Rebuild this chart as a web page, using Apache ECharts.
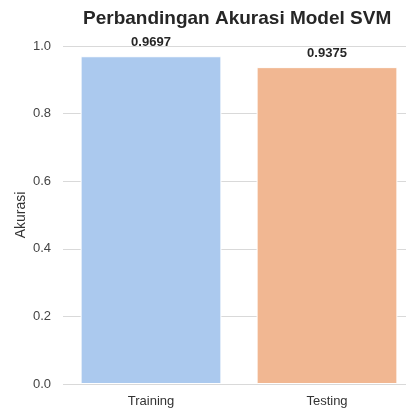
<!DOCTYPE html>
<html>
<head>
<meta charset="utf-8">
<script src="https://cdn.jsdelivr.net/npm/echarts@6/dist/echarts.min.js"></script>
<style>
  html, body { margin: 0; padding: 0; background: #fff; overflow: hidden; }
  #chart { width: 415px; height: 410px; }
</style>
</head>
<body>
<div id="chart"></div>
<script>
const categories = ['Training', 'Testing'];
const accuracy = [0.9697, 0.9375];
const barColors = ['#abc9ee', '#f1b792'];
const yTicks = [0, 0.2, 0.4, 0.6, 0.8, 1.0];

const initChart = function () {
  const myChart = echarts.init(document.getElementById('chart'));
  const font = 'Liberation Sans, Arial, sans-serif';
  let option = {
    animation: false,
    textStyle: { fontFamily: font },
    title: {
      text: 'Perbandingan Akurasi Model SVM',
      left: 78,
      top: 4,
      textStyle: { fontSize: 19, fontWeight: 'bold', color: '#262626', fontFamily: font }
    },
    grid: { left: 63, right: 0, top: 46, bottom: 26, containLabel: false },
    xAxis: {
      type: 'category',
      data: categories,
      axisLine: { show: false },
      axisTick: { show: false },
      axisLabel: { color: '#333333', fontSize: 13, margin: 11 }
    },
    yAxis: {
      type: 'value',
      min: 0,
      max: 1.0,
      interval: 0.2,
      name: 'Akurasi',
      nameLocation: 'middle',
      nameGap: 35,
      nameMoveOverlap: false,
      nameTextStyle: { color: '#333333', fontSize: 14 },
      axisLine: { show: false },
      axisTick: { show: false },
      axisLabel: {
        color: '#444444', fontSize: 13, margin: 12,
        formatter: function (v) { return yTicks.indexOf(v) >= 0 ? v.toFixed(1) : ''; }
      },
      splitLine: { lineStyle: { color: '#d9d9d9', width: 1.2 } }
    },
    series: [
      {
        type: 'bar',
        barWidth: '80%',
        data: accuracy.map(function (v, i) {
          return { value: v, itemStyle: { color: barColors[i], borderColor: '#ffffff', borderWidth: 1 } };
        }),
        label: {
          show: true,
          position: 'top',
          distance: 7,
          fontSize: 13,
          fontWeight: 'bold',
          color: '#262626',
          formatter: function (p) { return p.value.toFixed(4); }
        }
      }
    ]
  };
  myChart.setOption(option);
};

window.addEventListener('load', initChart);
</script>
</body>
</html>
